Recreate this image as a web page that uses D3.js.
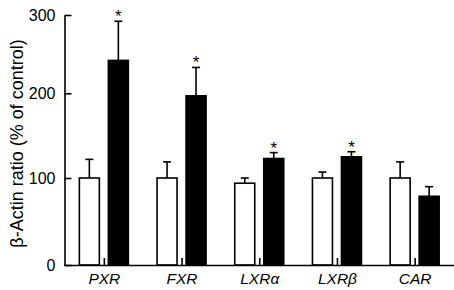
<!DOCTYPE html>
<html>
<head>
<meta charset="utf-8">
<script src="https://cdn.jsdelivr.net/npm/d3@7"></script>
<style>
  body { margin: 0; background: white; }
  text { font-family: "Liberation Sans", Arial, sans-serif; }
</style>
</head>
<body>
<div id="chart"></div>
<script>
// values
let categories = ["PXR", "FXR", "LXRα", "LXRβ", "CAR"];
let controlMean = [100, 100, 94, 100, 100];
let controlErr = [22, 19, 6, 7, 19];
let treatedMean = [242, 197, 123, 125, 79];
let treatedErr = [50, 36, 7, 6, 11];
let significant = [true, true, true, true, false];
let yTicks = [0, 100, 200, 300];

let w = 454;
let h = 290;

let svg = d3.select("#chart").append("svg")
    .attr("width", w)
    .attr("height", h)
    .style("background-color", "white");

let rows = categories.map(function(c, i){
    return [
        {cat: c, series: "control", mean: controlMean[i], err: controlErr[i], star: false},
        {cat: c, series: "treated", mean: treatedMean[i], err: treatedErr[i], star: significant[i]}
    ];
}).flat();

// the scanned axis is slightly uneven, so follow its tick positions
let yScale = d3.scaleLinear().domain(yTicks).range([265, 178, 93.3, 15]);
let xScale = d3.scaleBand().domain(categories).range([65.5, 454]);
let inner = d3.scaleBand().domain(["control", "treated"]).range([-25, 24]).paddingInner(9 / 29);

function barX(d){
    return xScale(d.cat) + xScale.bandwidth() / 2 + inner(d.series);
}
function barMid(d){
    return barX(d) + inner.bandwidth() / 2;
}

// bars
svg.append("g").selectAll("rect")
    .data(rows)
    .join("rect")
    .attr("x", barX)
    .attr("y", d => yScale(d.mean))
    .attr("width", inner.bandwidth())
    .attr("height", d => yScale(0) - yScale(d.mean))
    .attr("fill", d => d.series == "treated" ? "black" : "white")
    .attr("stroke", "black")
    .attr("stroke-width", 1.6);

// error bars, upward only
let errs = svg.append("g")
    .attr("stroke", "black")
    .attr("stroke-width", 1.6)
    .selectAll("g")
    .data(rows)
    .join("g");
errs.append("line")
    .attr("x1", barMid)
    .attr("x2", barMid)
    .attr("y1", d => yScale(d.mean))
    .attr("y2", d => yScale(d.mean + d.err));
errs.append("line")
    .attr("x1", d => barMid(d) - 4)
    .attr("x2", d => barMid(d) + 4)
    .attr("y1", d => yScale(d.mean + d.err))
    .attr("y2", d => yScale(d.mean + d.err));

svg.append("g").selectAll("text")
    .data(rows.filter(d => d.star))
    .join("text")
    .attr("x", barMid)
    .attr("y", d => yScale(d.mean + d.err) + 1)
    .attr("text-anchor", "middle")
    .attr("font-size", 17)
    .text("*");

// axes
let yAxis = svg.append("g")
    .attr("transform", "translate(64.5,0)")
    .call(d3.axisLeft(yScale).tickValues(yTicks).tickSize(-7).tickSizeOuter(0).tickPadding(9));
yAxis.selectAll("text").attr("font-size", 16).attr("fill", "black").style("font-family", "Liberation Sans, Arial, sans-serif");

let xAxis = svg.append("g")
    .attr("transform", "translate(0,265)")
    .call(d3.axisBottom(xScale).tickSize(-7).tickSizeOuter(0).tickPadding(8));
xAxis.selectAll("text").attr("font-size", 15.5).attr("font-style", "italic").attr("fill", "black").style("font-family", "Liberation Sans, Arial, sans-serif");
xAxis.select(".domain").attr("d", "M64.5,0.5H454");

svg.selectAll(".domain, .tick line").attr("stroke", "black").attr("stroke-width", 1.6);

svg.append("text")
    .attr("transform", "translate(23,143.5) rotate(-90)")
    .attr("text-anchor", "middle")
    .attr("font-size", 18)
    .text("β-Actin ratio (% of control)");
</script>
</body>
</html>
